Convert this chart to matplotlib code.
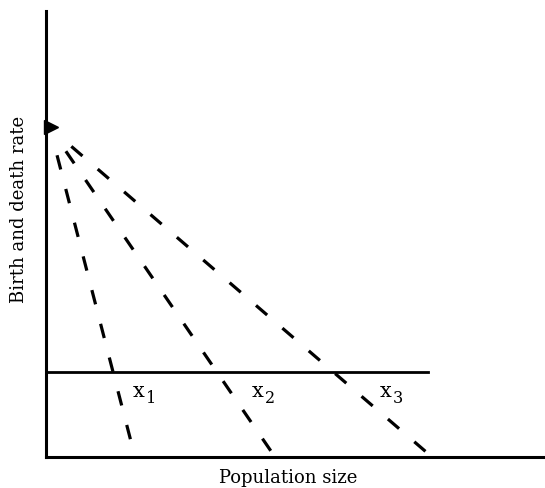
import matplotlib
matplotlib.use("Agg")
import matplotlib.pyplot as plt

# Data (arbitrary units)
start_x, start_y = 4, 329
end_x = [89, 229, 386]
level_y = 85
level_x_end = 382
labels = ["1", "2", "3"]
label_x = [87, 206, 334]
label_y = 60
xlim = (0, 499)
ylim = (0, 446)

plt.rcParams['font.family'] = ['DejaVu Serif']

fig = plt.figure(figsize=(5.45, 4.88), dpi=100)
ax = fig.add_axes([46/545, 31/488, 499/545, 446/488])
ax.set_xlim(*xlim)
ax.set_ylim(*ylim)

for s in ['top', 'right']:
    ax.spines[s].set_visible(False)
for s in ['left', 'bottom']:
    ax.spines[s].set_linewidth(2.2)
ax.set_xticks([])
ax.set_yticks([])

# dash pattern: initial gap, then regular dashes (in linewidth units)
dash_seq = [0.01, 8.8] + [4.6, 6.3] * 25
for ex in end_x:
    ax.plot([start_x, ex], [start_y, 0], color='black', lw=2.3,
            linestyle=(0, dash_seq), dash_capstyle='butt', clip_on=False)

ax.plot([0, level_x_end], [level_y, level_y], color='black', lw=2.0, clip_on=False)

ax.plot([5], [start_y + 1], marker='>', color='black', markersize=10, clip_on=False)

for lx, lab in zip(label_x, labels):
    ax.text(lx, label_y, "x", fontsize=15, ha='left', va='baseline')
    ax.text(lx + 13, label_y - 6, lab, fontsize=11.5, ha='left', va='baseline')

fig.text(288/545, 1 - 478/488, "Population size", ha='center', va='center',
         fontsize=13)
fig.text(19/545, 1 - 209/488, "Birth and death rate", ha='center', va='center',
         fontsize=13, rotation=90)

fig.savefig("out.png", dpi=100)
